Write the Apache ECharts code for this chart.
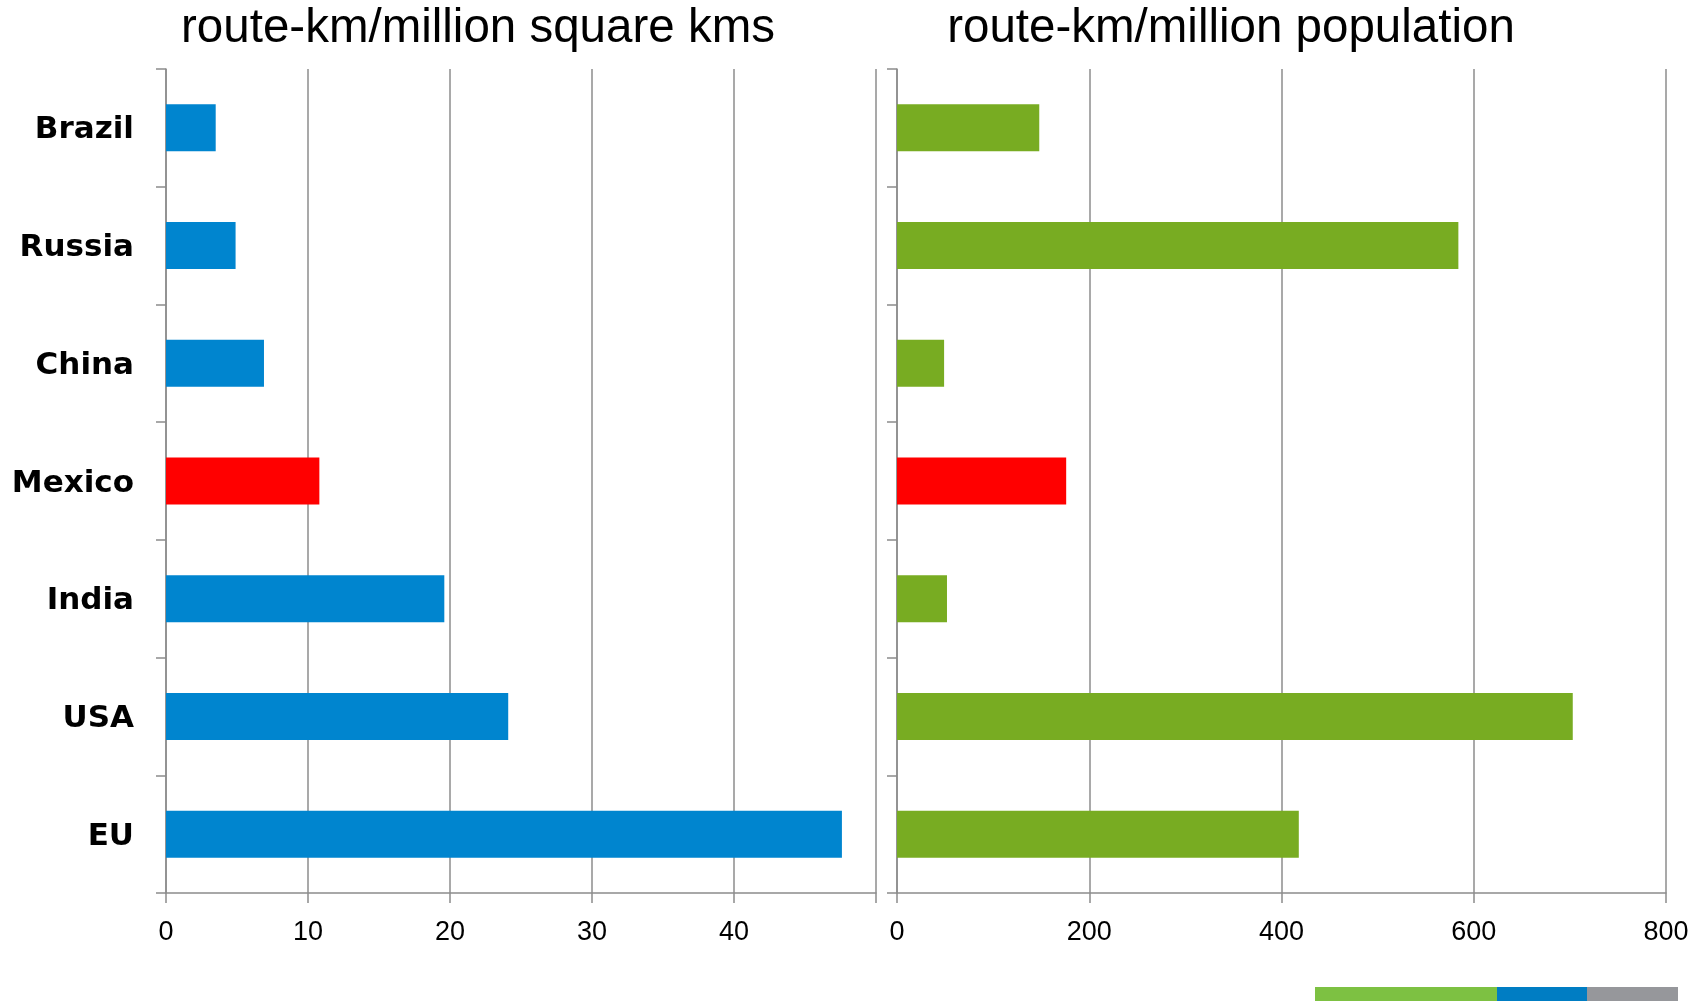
<!DOCTYPE html>
<html>
<head>
<meta charset="utf-8">
<title>Rail network density</title>
<script src="https://cdn.jsdelivr.net/npm/echarts@6/dist/echarts.min.js"></script>
<style>
  html, body { margin: 0; padding: 0; background: #ffffff; }
  #chart { width: 1708px; height: 1001px; }
</style>
</head>
<body>
<div id="chart"></div>
<script>
// Countries, top to bottom
const countries = ['Brazil', 'Russia', 'China', 'Mexico', 'India', 'USA', 'EU'];
// Rail route-km per million square km of territory
const perArea = [3.5, 4.9, 6.9, 10.8, 19.6, 24.1, 47.6];
// Rail route-km per million inhabitants
const perPopulation = [148, 584, 49, 176, 52, 703, 418];
// Value-axis ticks
const areaTicks = [0, 10, 20, 30, 40, 50];
const popTicks = [0, 200, 400, 600, 800];
// The country picked out in red
const highlighted = 'Mexico';

const BLUE = '#0085cf';
const GREEN = '#78ac22';
const RED = '#ff0000';
const GRID_GREY = '#8c8c8c';

function barData(values, baseColor) {
  return values.map((v, i) => ({
    value: v,
    itemStyle: { color: countries[i] === highlighted ? RED : baseColor }
  }));
}

function valueAxis(gridIndex, ticks, hideLast) {
  const step = ticks[1] - ticks[0];
  return {
    type: 'value',
    gridIndex: gridIndex,
    min: ticks[0],
    max: ticks[ticks.length - 1],
    interval: step,
    axisLine: { show: true, lineStyle: { color: GRID_GREY, width: 1.5 } },
    axisTick: { show: true, length: 10, lineStyle: { color: GRID_GREY, width: 1.5 } },
    splitLine: { show: true, lineStyle: { color: GRID_GREY, width: 1.5 } },
    axisLabel: {
      margin: 26,
      color: '#000000',
      fontFamily: '"Liberation Sans", Arial, sans-serif',
      fontSize: 27,
      formatter: function (v) {
        return hideLast && v === ticks[ticks.length - 1] ? '' : String(v);
      }
    }
  };
}

function categoryAxis(gridIndex, showLabels) {
  return {
    type: 'category',
    gridIndex: gridIndex,
    data: countries,
    inverse: true,
    axisLine: { show: true, lineStyle: { color: GRID_GREY, width: 1.5 } },
    axisTick: { show: true, length: 10, alignWithLabel: false, lineStyle: { color: GRID_GREY, width: 1.5 } },
    splitLine: { show: false },
    axisLabel: {
      show: showLabels,
      margin: 32,
      formatter: function (name) { return '{c|' + name + '}'; },
      rich: {
        c: {
          padding: [5, 0, 0, 0],
          color: '#000000',
          fontFamily: '"DejaVu Sans", Verdana, sans-serif',
          fontWeight: 'bold',
          fontSize: 31
        }
      }
    }
  };
}

const chart = echarts.init(document.getElementById('chart'), null, { renderer: 'canvas' });

const titleFont = { fontFamily: '"Liberation Sans", Arial, sans-serif', fontSize: 47.5, fontWeight: 'normal', color: '#000000' };

chart.setOption({
  backgroundColor: '#ffffff',
  animation: false,
  title: [
    { text: 'route-km/million square kms', left: 473, top: 0, textAlign: 'center', textStyle: titleFont },
    { text: 'route-km/million population', left: 1226, top: 0, textAlign: 'center', textStyle: titleFont }
  ],
  grid: [
    { left: 166, top: 69, width: 710, height: 824 },
    { left: 897, top: 69, width: 769, height: 824 }
  ],
  xAxis: [
    valueAxis(0, areaTicks, true),
    valueAxis(1, popTicks, false)
  ],
  yAxis: [
    categoryAxis(0, true),
    categoryAxis(1, false)
  ],
  series: [
    {
      type: 'bar',
      xAxisIndex: 0, yAxisIndex: 0,
      barWidth: 47,
      data: barData(perArea, BLUE)
    },
    {
      type: 'bar',
      xAxisIndex: 1, yAxisIndex: 1,
      barWidth: 47,
      data: barData(perPopulation, GREEN)
    }
  ],
  graphic: [
    // colour strip in the bottom-right corner
    { type: 'rect', shape: { x: 1315, y: 987, width: 182, height: 14 }, style: { fill: '#7dc142' } },
    { type: 'rect', shape: { x: 1497, y: 987, width: 90, height: 14 }, style: { fill: '#007dc3' } },
    { type: 'rect', shape: { x: 1587, y: 987, width: 91, height: 14 }, style: { fill: '#96979b' } }
  ]
});
</script>
</body>
</html>
